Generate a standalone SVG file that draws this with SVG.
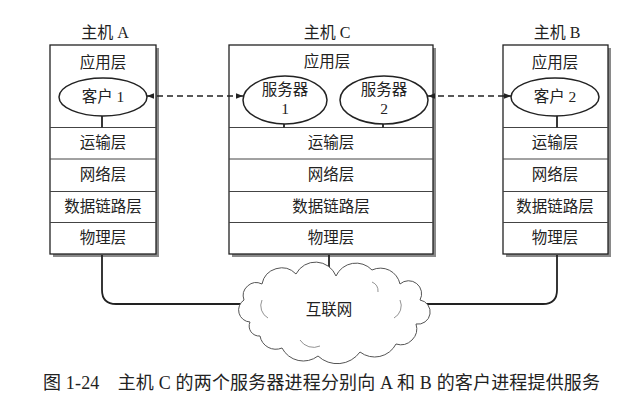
<svg xmlns="http://www.w3.org/2000/svg" width="636" height="407" viewBox="0 0 636 407">
<style>
.t{font-family:"Liberation Serif","Noto Sans CJK SC",serif;font-size:15.5px;fill:#222;text-anchor:middle}
.h{font-size:16px}
.box{fill:#fff;stroke:#222;stroke-width:1.3}
.sh{fill:#8a8a8a}
.div{stroke:#444;stroke-width:1}
.ell{fill:#fff;stroke:#222;stroke-width:1.5}
.ln{fill:none;stroke:#222;stroke-width:1.8}
.dash{fill:none;stroke:#222;stroke-width:1.4;stroke-dasharray:6 4}
.cl{fill:#fff;stroke:#555;stroke-width:1}
</style>
<defs>
<marker id="ah" viewBox="0 0 10 10" refX="10" refY="5" markerWidth="8" markerHeight="7" orient="auto-start-reverse" markerUnits="userSpaceOnUse"><path d="M0,1 L10,5 L0,9 Z" fill="#222"/></marker>
</defs>
<rect width="636" height="407" fill="#fff"/>

<g id="hostA">
<text class="t h" x="105" y="38">主机 A</text>
<rect class="sh" x="53" y="48" width="106" height="209"/>
<rect class="box" x="50" y="45" width="106" height="209"/>
<line class="div" x1="50" y1="127.5" x2="156" y2="127.5"/>
<line class="div" x1="50" y1="159" x2="156" y2="159"/>
<line class="div" x1="50" y1="191.5" x2="156" y2="191.5"/>
<line class="div" x1="50" y1="222.5" x2="156" y2="222.5"/>
<text class="t" x="103" y="68">应用层</text>
<ellipse class="ell" cx="103" cy="97" rx="44" ry="19"/>
<text class="t" x="103" y="102">客户 1</text>
<text class="t" x="103" y="148">运输层</text>
<text class="t" x="103" y="180">网络层</text>
<text class="t" x="103" y="212">数据链路层</text>
<text class="t" x="103" y="243">物理层</text>
</g>

<g id="hostC">
<text class="t h" x="327" y="38">主机 C</text>
<rect class="sh" x="232" y="48" width="204" height="209"/>
<rect class="box" x="229" y="45" width="204" height="209"/>
<line class="div" x1="229" y1="127.5" x2="433" y2="127.5"/>
<line class="div" x1="229" y1="159" x2="433" y2="159"/>
<line class="div" x1="229" y1="191.5" x2="433" y2="191.5"/>
<line class="div" x1="229" y1="222.5" x2="433" y2="222.5"/>
<text class="t" x="327" y="67">应用层</text>
<ellipse class="ell" cx="285" cy="100" rx="42" ry="24"/>
<text class="t" x="285" y="95">服务器</text>
<text class="t" x="285" y="114">1</text>
<ellipse class="ell" cx="384" cy="100" rx="44" ry="24"/>
<text class="t" x="384" y="95">服务器</text>
<text class="t" x="384" y="114">2</text>
<text class="t" x="331" y="148">运输层</text>
<text class="t" x="331" y="180">网络层</text>
<text class="t" x="331" y="212">数据链路层</text>
<text class="t" x="331" y="243">物理层</text>
</g>

<g id="hostB">
<text class="t h" x="557" y="38">主机 B</text>
<rect class="sh" x="506" y="48" width="105" height="209"/>
<rect class="box" x="503" y="45" width="105" height="209"/>
<line class="div" x1="503" y1="127.5" x2="608" y2="127.5"/>
<line class="div" x1="503" y1="159" x2="608" y2="159"/>
<line class="div" x1="503" y1="191.5" x2="608" y2="191.5"/>
<line class="div" x1="503" y1="222.5" x2="608" y2="222.5"/>
<text class="t" x="555" y="68">应用层</text>
<ellipse class="ell" cx="555" cy="97" rx="44" ry="19"/>
<text class="t" x="555" y="102">客户 2</text>
<text class="t" x="555" y="148">运输层</text>
<text class="t" x="555" y="180">网络层</text>
<text class="t" x="555" y="212">数据链路层</text>
<text class="t" x="555" y="243">物理层</text>
</g>

<g id="connectors">
<path class="ln" d="M102,255 V290 Q102,304 116,304 H242"/>
<path class="ln" d="M557,255 V290 Q557,304 543,304 H412"/>
<path class="ln" d="M329,255 V280"/>
<line class="ln" x1="102" y1="116" x2="102" y2="127.5"/>
<line class="ln" x1="284" y1="124" x2="284" y2="127.5"/>
<line class="ln" x1="383" y1="124" x2="383" y2="127.5"/>
<line class="ln" x1="557" y1="116" x2="557" y2="127.5"/>
<line class="dash" x1="147" y1="96" x2="243" y2="96" marker-start="url(#ah)" marker-end="url(#ah)"/>
<line class="dash" x1="428" y1="96" x2="511" y2="96" marker-start="url(#ah)" marker-end="url(#ah)"/>
</g>

<g id="internet">
<path class="cl" d="M250,322 A12,12 0 0 1 244,300 A13,13 0 0 1 262,284 A20,20 0 0 1 296,274 A22,22 0 0 1 336,276 A22,22 0 0 1 372,270 A20,20 0 0 1 400,284 A13,13 0 0 1 420,300 A12,12 0 0 1 416,324 A16,16 0 0 1 396,344 A24,24 0 0 1 360,352 A28,28 0 0 1 318,356 A24,24 0 0 1 282,348 A16,16 0 0 1 260,336 A10,10 0 0 1 250,322 Z"/>
<path fill="none" stroke="#777" stroke-width="0.8" d="M262,300 A14,14 0 0 0 268,318 M400,300 A14,14 0 0 1 394,318 M300,340 A16,16 0 0 0 320,346 M372,282 A10,10 0 0 1 378,292"/>
<text class="t" x="329" y="315">互联网</text>
</g>

<text class="t" x="43" y="389" style="font-size:18px;text-anchor:start" textLength="557" lengthAdjust="spacing">图 1-24　主机 C 的两个服务器进程分别向 A 和 B 的客户进程提供服务</text>
</svg>
